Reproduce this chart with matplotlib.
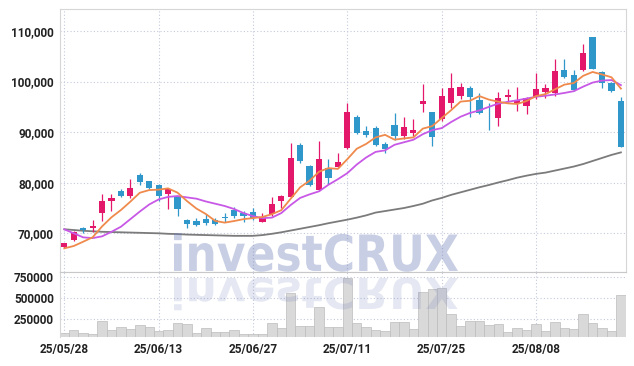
import matplotlib
matplotlib.use("Agg")
import matplotlib.pyplot as plt
import numpy as np
import pandas as pd
from matplotlib.font_manager import FontProperties
from matplotlib.patches import PathPatch
from matplotlib.textpath import TextPath
from matplotlib.transforms import Affine2D

# --- data ---

dates = pd.bdate_range("2025-05-28", "2025-08-22").drop(
    pd.to_datetime(["2025-06-03", "2025-06-06", "2025-08-15"])
)

opens = [67200, 68700, 71000, 71050, 74000, 76450, 78400, 77450, 81600, 80350,
         79550, 77700, 77250, 72600, 72400, 72800, 72600, 73100, 74550, 74000,
         74200, 72300, 73800, 76450, 77250, 87450, 83300, 78550, 82950, 83150,
         86800, 93050, 90300, 90900, 87650, 91400, 89250, 89900, 95600, 94000,
         92600, 95800, 97200, 98800, 96350, 93800, 92750, 97000, 95500, 95250,
         96950, 97900, 97800, 102300, 101300, 102250, 108750, 101850, 99800, 96150]
highs = [68100, 70500, 71200, 72600, 77700, 77850, 78800, 80700, 81900, 80400,
         79700, 78900, 77300, 72800, 73100, 73800, 73100, 73950, 75150, 74400,
         74950, 73950, 77100, 77500, 87800, 87900, 83500, 88250, 84650, 85800,
         95800, 93300, 91200, 91300, 88100, 93700, 93050, 92550, 99450, 94050,
         98650, 101650, 99800, 99100, 97800, 95700, 97900, 98550, 98850, 96900,
         101600, 99450, 104450, 104450, 102300, 107350, 108800, 102150, 100000, 97000]
lows = [67000, 68500, 70100, 70300, 72400, 74500, 77200, 77000, 79600, 78800,
        76300, 74750, 73400, 71000, 71450, 71650, 71650, 72300, 73100, 72300,
        72650, 72250, 73400, 75000, 77200, 83850, 79400, 78300, 79700, 83100,
        86700, 89700, 89000, 87350, 85800, 88450, 88700, 89250, 93900, 87250,
        92250, 94700, 96500, 92950, 93500, 90400, 91200, 96000, 94250, 93550,
        96500, 96800, 97200, 100650, 98200, 102150, 102400, 98650, 97850, 87050]
closes = [68000, 70300, 70700, 71400, 76400, 77050, 77450, 79000, 80200, 79050,
          77450, 78750, 74750, 71900, 71650, 72050, 71900, 73050, 73500, 73500,
          73100, 73000, 75800, 77450, 84900, 84350, 79500, 84700, 81000, 84100,
          94000, 89800, 89500, 87450, 86600, 89250, 91000, 90500, 96150, 89100,
          97150, 98800, 99000, 97000, 93700, 93700, 96700, 97400, 96350, 96700,
          98500, 98650, 102100, 101000, 98300, 105650, 102450, 99650, 98200, 87100]

ma_short = [67030, 67490, 68340, 69210, 71360, 73170, 74600, 76260, 78020, 78550,
            78630, 78890, 78040, 76380, 74900, 73820, 72450, 72110, 72430, 72800,
            73010, 73230, 73780, 74570, 76850, 79100, 80400, 82180, 82890, 82730,
            84660, 86720, 87680, 88970, 89470, 88520, 88760, 88960, 90700, 91200,
            92780, 94340, 96040, 96210, 97130, 96440, 96020, 95700, 95570, 96170,
            97130, 97520, 98460, 99390, 99710, 101140, 101900, 101410, 100850, 98610]
ma_mid = [70790, 70000, 69200, 69050, 69400, 70300, 71300, 72800, 74300, 75700,
          76700, 77200, 77370, 77100, 76850, 76300, 75850, 75400, 74800, 74000,
          73400, 73000, 73100, 74000, 75600, 77000, 77700, 78300, 79600, 80700,
          81900, 83600, 85000, 86100, 86400, 87500, 88000, 88500, 89600, 90400,
          90800, 92000, 93050, 93800, 94300, 95000, 95650, 96000, 96300, 96650,
          97000, 97200, 97450, 97750, 98100, 99000, 99800, 100200, 100300, 99300]
ma_long = [70800, 70650, 70500, 70400, 70300, 70250, 70200, 70150, 70100, 70050,
           70000, 69900, 69850, 69750, 69700, 69650, 69600, 69550, 69500, 69500,
           69500, 69650, 69900, 70200, 70550, 70900, 71250, 71600, 72000, 72350,
           72700, 73100, 73550, 74100, 74400, 74700, 75000, 75400, 75850, 76500,
           77000, 77600, 78100, 78600, 79100, 79550, 80050, 80500, 81000, 81400,
           81750, 82000, 82400, 82800, 83200, 83700, 84300, 84900, 85500, 86000]

volumes = [86700, 118700, 86700, 70700, 226600, 118700, 150700, 130700, 178600, 150700,
           110700, 118700, 202600, 190600, 82700, 138700, 94700, 94700, 114700, 70700,
           70700, 70700, 198700, 138700, 558400, 162700, 162700, 390500, 150700, 150700,
           738200, 198700, 150700, 118700, 106700, 214600, 214600, 126700, 574300, 606300,
           618300, 310500, 166700, 222700, 222700, 178600, 190600, 94700, 138700, 118700,
           186700, 106700, 210700, 138700, 126700, 310500, 198700, 138700, 106700, 534400]

price_ticks = [70000, 80000, 90000, 100000, 110000]
volume_ticks = [250000, 500000, 750000]

# --- style ---

UP = "#e3186a"
DOWN = "#2f97c9"
GRID = "#c4c9dc"
TICK_FONT = dict(family="Roboto", weight="bold", size=8.5, color="#222222")

fig = plt.figure(figsize=(6.34, 3.66), dpi=100)
ax = fig.add_axes([0.094, 0.256, 0.8928, 0.7194])
axv = fig.add_axes([0.094, 0.0784, 0.8928, 0.1776], sharex=ax)

x = np.arange(len(dates))
o = np.array(opens)
c = np.array(closes)
up = c >= o
colors = np.where(up, UP, DOWN)

# --- price candles ---
ax.vlines(x, lows, highs, colors=colors, linewidth=0.9, zorder=3)
body = np.maximum(np.abs(c - o), 180)
ax.bar(x, body, 0.66, bottom=np.minimum(o, c), color=colors, linewidth=0, zorder=4)

ax.plot(x, ma_long, color="#7b7b7b", linewidth=1.3, zorder=2)
ax.plot(x, ma_mid, color="#c858e6", linewidth=1.3, zorder=5)
ax.plot(x, ma_short, color="#ef8a4c", linewidth=1.3, zorder=5)

ax.set_xlim(-0.5, len(dates) - 0.5)
ax.set_ylim(62290, 114350)
ax.set_yticks(price_ticks)
ax.set_yticklabels([f"{v:,}" for v in price_ticks], **TICK_FONT)

# --- volume ---
axv.bar(x, volumes, 1.0, color="#d9d9d9", edgecolor="#bcbcbc", linewidth=0.5, zorder=2)
axv.set_ylim(31000, 810000)
axv.set_yticks(volume_ticks)
axv.set_yticklabels([str(v) for v in volume_ticks], **TICK_FONT)

tick_idx = list(range(0, len(dates), 10))
axv.set_xticks(tick_idx)
axv.set_xticklabels([dates[i].strftime("%y/%m/%d") for i in tick_idx], **TICK_FONT)

for a in (ax, axv):
    a.grid(True, linestyle=(0, (1, 2)), color=GRID, linewidth=0.8, zorder=0)
    a.tick_params(length=0, pad=4)
    for s in a.spines.values():
        s.set_color("#d6d6d6")
        s.set_linewidth(0.8)
plt.setp(ax.get_xticklabels(), visible=False)
axv.spines["bottom"].set_visible(False)
axv.spines["right"].set_visible(False)
axv.spines["top"].set_color("#c8c8c8")

# --- watermark with reflection ---
tp = TextPath((0, 0), "investCRUX", size=100,
              prop=FontProperties(family="DejaVu Sans", weight="bold"))
bb = tp.get_extents()
sx = (458 - 174) / bb.width
sy = (271 - 233) / bb.y1
H = 366
main_tr = Affine2D().translate(-bb.x0, 0).scale(sx, sy).translate(174, H - 271).scale(1 / 100)
refl_tr = Affine2D().translate(-bb.x0, 0).scale(sx, -sy * 0.85).translate(174, H - 278).scale(1 / 100)
fig.add_artist(PathPatch(tp, transform=main_tr + fig.dpi_scale_trans,
                         facecolor="#6f80b8", edgecolor="none", alpha=0.38, zorder=10))
fig.add_artist(PathPatch(tp, transform=refl_tr + fig.dpi_scale_trans,
                         facecolor="#6f80b8", edgecolor="none", alpha=0.18, zorder=10))

fig.savefig("out.png", dpi=100)
